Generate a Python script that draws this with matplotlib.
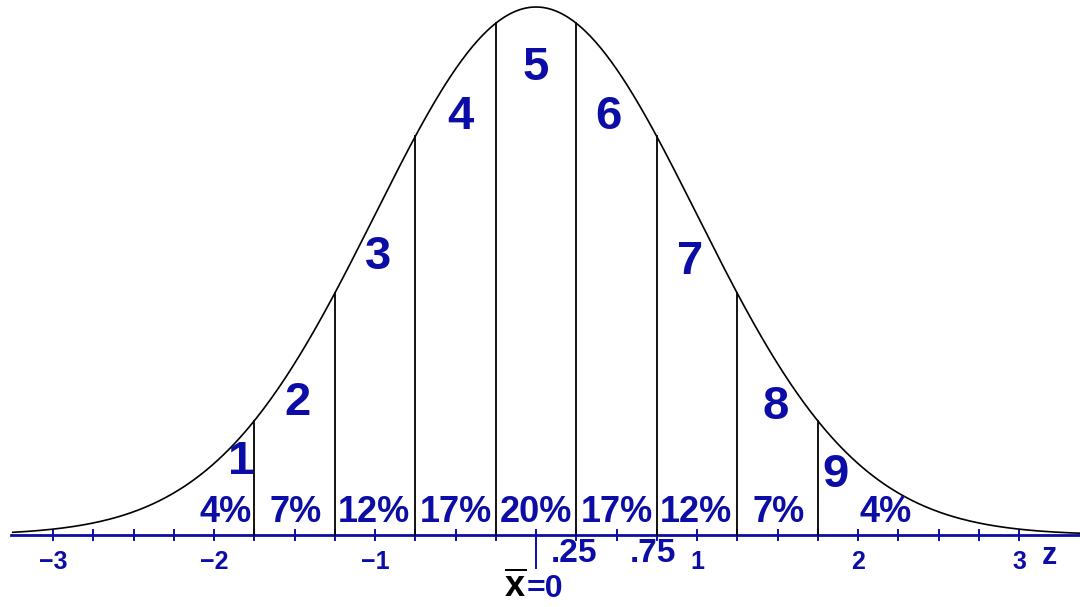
import numpy as np
import matplotlib.pyplot as plt

# stanine boundaries (z) and labels
boundaries = [-1.75, -1.25, -0.75, -0.25, 0.25, 0.75, 1.25, 1.75]
stanines = ["1", "2", "3", "4", "5", "6", "7", "8", "9"]
percents = ["4%", "7%", "12%", "17%", "20%", "17%", "12%", "7%", "4%"]
tick_labels = ["\u22123", "\u22122", "\u22121", "1", "2", "3"]
tick_label_z = [-3, -2, -1, 1, 2, 3]
special_labels = [".25", ".75"]

# layout (z, y) of the labels
stanine_pos = [(-1.83, 0.055), (-1.48, 0.100), (-0.98, 0.210), (-0.47, 0.316), (0.0, 0.353),
               (0.45, 0.316), (0.96, 0.206), (1.49, 0.097), (1.86, 0.045)]
percent_z = [-1.93, -1.49, -1.01, -0.50, 0.0, 0.50, 0.99, 1.51, 2.17]

blue = "#0c0ca6"
plt.rcParams["font.family"] = ["Liberation Sans", "DejaVu Sans"]
plt.rcParams["mathtext.fontset"] = "custom"
plt.rcParams["mathtext.bf"] = "Liberation Sans:bold"
plt.rcParams["mathtext.rm"] = "Liberation Sans"


def pdf(z):
    return np.exp(-z ** 2 / 2) / np.sqrt(2 * np.pi)


px = 0.39894 / 528  # data units per pixel (vertical)

fig = plt.figure(figsize=(10.8, 6.07), dpi=100)
ax = fig.add_axes([0, 0, 1, 1])
ax.set_xlim(-536 / 161, (1080 - 536) / 161)
ax.set_ylim(-72 * px, 535 * px)
ax.axis("off")

# axis line and ticks
ax.plot([-3.26, 3.38], [0, 0], color=blue, lw=2)
for t in np.arange(-3, 3.01, 0.25):
    ax.plot([t, t], [-5 * px, 5 * px], color=blue, lw=1.4)
ax.plot([0, 0], [0, -33 * px], color=blue, lw=1.4)

# curve
z = np.linspace(-3.25, 3.38, 600)
ax.plot(z, pdf(z), color="black", lw=1.2)

# boundaries
for b in boundaries:
    ax.plot([b, b], [0, pdf(b)], color="black", lw=1.3)

# labels
for s, (x, y) in zip(stanines, stanine_pos):
    ax.text(x, y, s, color=blue, fontsize=34, fontweight="bold", ha="center", va="center")
for p, x in zip(percents, percent_z):
    ax.text(x, 22 * px, p, color=blue, fontsize=26, fontweight="bold", ha="center", va="center")
for lab, x in zip(tick_labels, tick_label_z):
    ax.text(x, -27 * px, lab, color=blue, fontsize=18, fontweight="bold", ha="center", va="center")
ax.text(0.235, -19 * px, special_labels[0], color=blue, fontsize=24, fontweight="bold", ha="center", va="center")
ax.text(0.725, -19 * px, special_labels[1], color=blue, fontsize=24, fontweight="bold", ha="center", va="center")
ax.text(3.19, -21 * px, "z", color=blue, fontsize=22, fontweight="bold", ha="center", va="center")
ax.text(-0.13, -52 * px, r"$\mathbf{\overline{x}}$", color="black", fontsize=26, ha="center", va="center")
ax.text(-0.06, -54 * px, "=0", color=blue, fontsize=23, fontweight="bold", ha="left", va="center")

fig.savefig("out.png", dpi=100)
